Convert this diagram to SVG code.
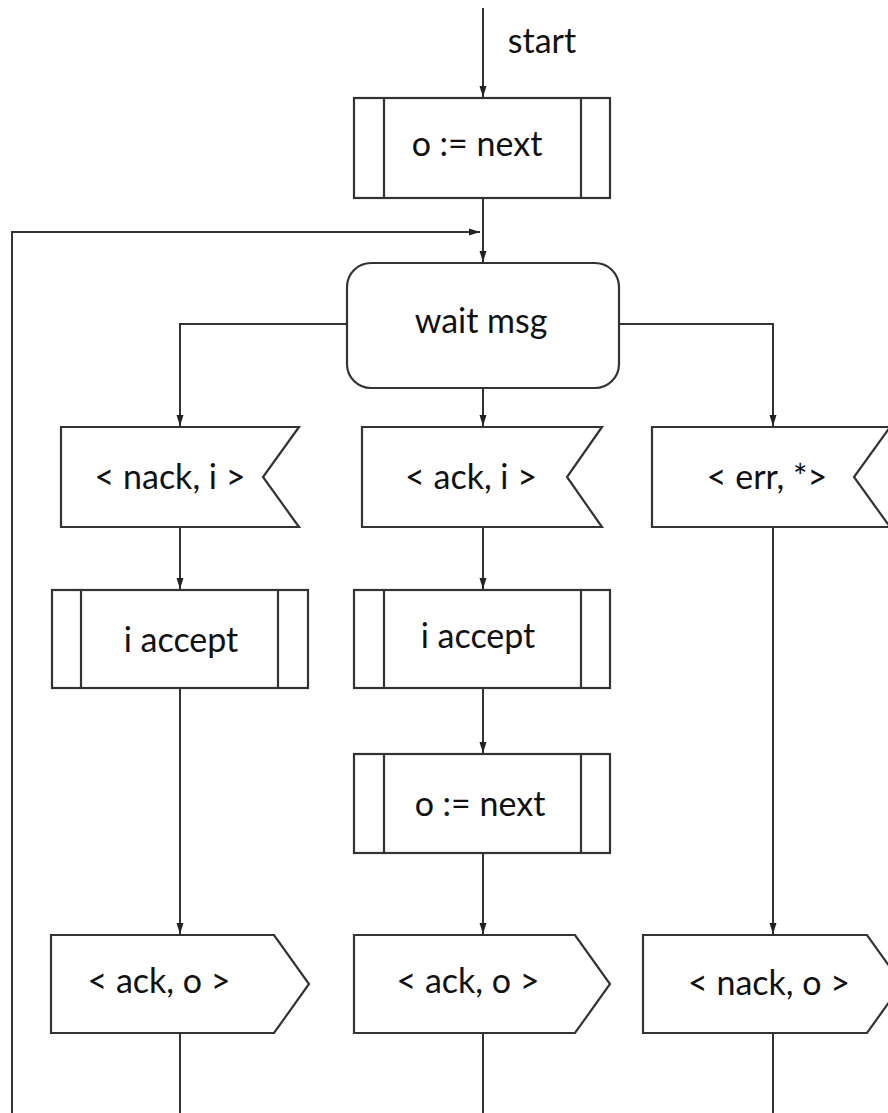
<svg xmlns="http://www.w3.org/2000/svg" width="888" height="1113" viewBox="0 0 888 1113">
  <style>
    .shape { fill: #ffffff; stroke: #333333; stroke-width: 2.2; }
    .inner { fill: none; stroke: #333333; stroke-width: 2.2; }
    .wire { fill: none; stroke: #333333; stroke-width: 2; }
    .label { font-family: Lato, "Liberation Sans", sans-serif; font-size: 34px; fill: #111111; text-anchor: middle; }
  </style>
  <defs>
    <marker id="arrow" markerUnits="userSpaceOnUse" markerWidth="12" markerHeight="8" refX="11" refY="4" orient="auto">
      <path d="M0,0.5 L11,4 L0,7.5 z" fill="#222222"/>
    </marker>
  </defs>

  <rect width="888" height="1113" fill="#ffffff"/>

  <!-- connectors -->
  <g id="connectors">
    <path class="wire" d="M483,8 V97" marker-end="url(#arrow)"/>
    <path class="wire" d="M483,198 V262" marker-end="url(#arrow)"/>
    <path class="wire" d="M12,1113 V232 H480" marker-end="url(#arrow)"/>
    <path class="wire" d="M347,324 H180 V426" marker-end="url(#arrow)"/>
    <path class="wire" d="M483,388 V426" marker-end="url(#arrow)"/>
    <path class="wire" d="M619,324 H773 V426" marker-end="url(#arrow)"/>
    <path class="wire" d="M180,527 V589" marker-end="url(#arrow)"/>
    <path class="wire" d="M180,688 V934" marker-end="url(#arrow)"/>
    <path class="wire" d="M483,527 V589" marker-end="url(#arrow)"/>
    <path class="wire" d="M483,688 V753" marker-end="url(#arrow)"/>
    <path class="wire" d="M483,853 V934" marker-end="url(#arrow)"/>
    <path class="wire" d="M773,527 V934" marker-end="url(#arrow)"/>
    <path class="wire" d="M180,1033 V1113"/>
    <path class="wire" d="M483,1033 V1113"/>
    <path class="wire" d="M773,1033 V1113"/>
  </g>
  <text class="label" x="542" y="53">start</text>

  <!-- initial process -->
  <g id="init-next">
    <rect class="shape" x="354" y="98" width="256" height="100"/>
    <path class="inner" d="M384,98 V198 M581,98 V198"/>
    <text class="label" x="477" y="156">o := next</text>
  </g>

  <!-- wait state -->
  <g id="wait-msg">
    <rect class="shape" x="347" y="263" width="272" height="125" rx="24" ry="24"/>
    <text class="label" x="481" y="333">wait msg</text>
  </g>

  <!-- received messages -->
  <g id="recv-nack">
    <path class="shape" d="M61,427 H299 L263,477 L299,527 H61 Z"/>
    <text class="label" x="170" y="489">&lt; nack, i &gt;</text>
  </g>
  <g id="recv-ack">
    <path class="shape" d="M362,427 H602 L567,477 L602,527 H362 Z"/>
    <text class="label" x="471" y="489">&lt; ack, i &gt;</text>
  </g>
  <g id="recv-err">
    <path class="shape" d="M652,427 H890 L854,477 L890,527 H652 Z"/>
    <text class="label" x="767" y="489">&lt; err, *&gt;</text>
  </g>

  <!-- accept steps -->
  <g id="accept-left">
    <rect class="shape" x="52" y="590" width="256" height="98"/>
    <path class="inner" d="M81,590 V688 M278,590 V688"/>
    <text class="label" x="181" y="652">i accept</text>
  </g>
  <g id="accept-mid">
    <rect class="shape" x="354" y="590" width="256" height="98"/>
    <path class="inner" d="M384,590 V688 M581,590 V688"/>
    <text class="label" x="478" y="648">i accept</text>
  </g>
  <g id="next-mid">
    <rect class="shape" x="354" y="754" width="256" height="99"/>
    <path class="inner" d="M384,754 V853 M581,754 V853"/>
    <text class="label" x="480" y="816">o := next</text>
  </g>

  <!-- sent messages -->
  <g id="send-ack-left">
    <path class="shape" d="M51,935 H274 L309,984 L274,1033 H51 Z"/>
    <text class="label" x="159" y="993">&lt; ack, o &gt;</text>
  </g>
  <g id="send-ack-mid">
    <path class="shape" d="M354,935 H575 L610,984 L575,1033 H354 Z"/>
    <text class="label" x="468" y="993">&lt; ack, o &gt;</text>
  </g>
  <g id="send-nack">
    <path class="shape" d="M643,935 H867 L902,984 L867,1033 H643 Z"/>
    <text class="label" x="769" y="995">&lt; nack, o &gt;</text>
  </g>
</svg>
